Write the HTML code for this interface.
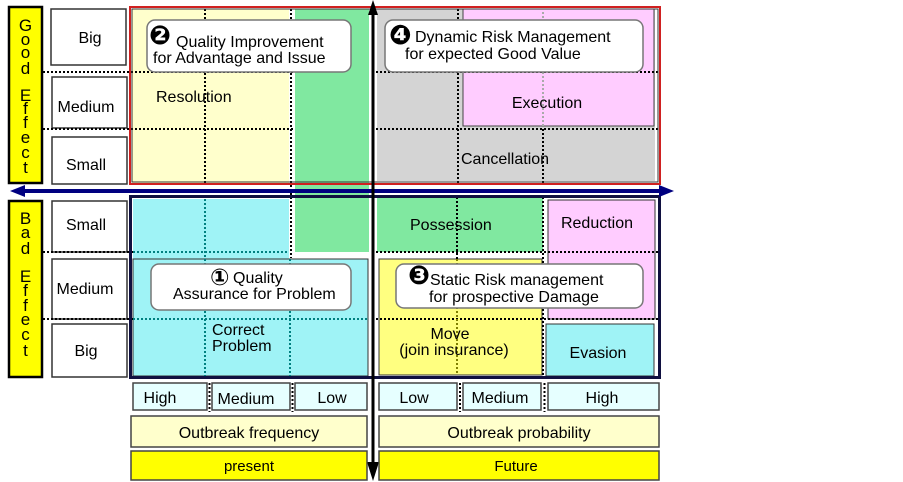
<!DOCTYPE html>
<html><head><meta charset="utf-8"><style>
html,body{margin:0;padding:0;background:#fff;}
svg{display:block;}
text{font-family:"Liberation Sans","DejaVu Sans",sans-serif;font-size:16px;fill:#000;}
.c{text-anchor:middle;}
.v{text-anchor:middle;font-size:17px;}
.sym{font-family:"DejaVu Sans",sans-serif;font-weight:bold;}
</style></head><body>
<svg width="903" height="482" viewBox="0 0 903 482" xmlns="http://www.w3.org/2000/svg">
<rect width="903" height="482" fill="#fff"/>

<!-- vertical yellow labels -->
<rect x="9" y="7" width="33" height="176" fill="#ffff00" stroke="#000" stroke-width="2.5"/>
<rect x="9" y="201" width="33" height="176" fill="#ffff00" stroke="#000" stroke-width="2.5"/>
<g>
<text x="25.5" y="31" class="v">G</text>
<text x="25.5" y="45" class="v">o</text>
<text x="25.5" y="58" class="v">o</text>
<text x="25.5" y="74" class="v">d</text>
<text x="25.5" y="101" class="v">E</text>
<text x="25.5" y="114" class="v">f</text>
<text x="25.5" y="128" class="v">f</text>
<text x="25.5" y="143" class="v">e</text>
<text x="25.5" y="158" class="v">c</text>
<text x="25.5" y="173" class="v">t</text>

<text x="25.5" y="224" class="v">B</text>
<text x="25.5" y="238" class="v">a</text>
<text x="25.5" y="254" class="v">d</text>
<text x="25.5" y="282" class="v">E</text>
<text x="25.5" y="296" class="v">f</text>
<text x="25.5" y="311" class="v">f</text>
<text x="25.5" y="325" class="v">e</text>
<text x="25.5" y="340" class="v">c</text>
<text x="25.5" y="356" class="v">t</text>
</g>

<!-- row label boxes -->
<g fill="#fff" stroke="#333" stroke-width="1.5">
<rect x="51" y="9" width="75" height="56"/>
<rect x="52" y="77" width="75" height="51"/>
<rect x="52" y="137" width="75" height="47"/>
<rect x="52" y="201" width="75" height="51"/>
<rect x="52" y="259" width="75" height="60"/>
<rect x="52" y="324" width="75" height="53"/>
</g>
<text x="90" y="43" class="c">Big</text>
<text x="86" y="112" class="c">Medium</text>
<text x="86" y="170" class="c">Small</text>
<text x="86" y="230" class="c">Small</text>
<text x="85" y="294" class="c">Medium</text>
<text x="86" y="356" class="c">Big</text>

<!-- TOP region fills -->
<rect x="132" y="9" width="157" height="174" fill="#ffffcc"/>
<rect x="295" y="9" width="74" height="243" fill="#80e8a0"/>
<rect x="377" y="9" width="278" height="172" fill="#d4d4d4"/>
<rect x="463" y="9" width="191" height="117" fill="#ffccff" stroke="#444" stroke-width="1"/>

<!-- BOTTOM region fills -->
<rect x="133" y="199" width="156" height="60" fill="#9ff3f6"/>
<rect x="133" y="259" width="235" height="117" fill="#9ff3f6" stroke="#333" stroke-width="1"/>
<rect x="377" y="197" width="166" height="55" fill="#80e8a0"/>
<rect x="548" y="200" width="107" height="119" fill="#ffccff" stroke="#333" stroke-width="1"/>
<rect x="546" y="324" width="108" height="52" fill="#9ff3f6" stroke="#333" stroke-width="1"/>
<rect x="379" y="259" width="163" height="116" fill="#ffff80" stroke="#333" stroke-width="1"/>

<!-- dotted lines -->
<g stroke="#000" stroke-width="2" stroke-dasharray="2 2" fill="none">
<line x1="43" y1="72" x2="295" y2="72"/>
<line x1="376" y1="72" x2="660" y2="72"/>
<line x1="43" y1="129" x2="295" y2="129"/>
<line x1="376" y1="129" x2="660" y2="129"/>
<line x1="205" y1="9" x2="205" y2="183"/>
<line x1="291" y1="9" x2="291" y2="258"/>
<line x1="458" y1="9" x2="458" y2="183"/>
<line x1="543" y1="129" x2="543" y2="183"/>
<line x1="43" y1="252" x2="133" y2="252"/>
<line x1="376" y1="252" x2="660" y2="252"/>
<line x1="43" y1="319" x2="133" y2="319"/>
<line x1="376" y1="319" x2="660" y2="319"/>
<line x1="543" y1="197" x2="543" y2="375"/>
<line x1="457" y1="197" x2="457" y2="259"/>
</g>
<g stroke="#aaa" stroke-width="2" stroke-dasharray="2 2">
<line x1="543" y1="12" x2="543" y2="126"/>
</g>
<g stroke="#008080" stroke-width="2" stroke-dasharray="2 2">
<line x1="133" y1="252" x2="289" y2="252"/>
<line x1="133" y1="319" x2="368" y2="319"/>
<line x1="205" y1="199" x2="205" y2="376"/>
<line x1="290" y1="259" x2="290" y2="376"/>
</g>
<g stroke="#808000" stroke-width="2" stroke-dasharray="2 2">
<line x1="457" y1="259" x2="457" y2="375"/>
</g>

<!-- frames -->
<rect x="130" y="7" width="530" height="177" fill="none" stroke="#d02020" stroke-width="2"/>
<rect x="132" y="9" width="526" height="173" fill="none" stroke="#333" stroke-width="1"/>
<rect x="130.5" y="196.5" width="529" height="181" fill="none" stroke="#101040" stroke-width="3"/>

<!-- blue horizontal arrow -->
<line x1="20" y1="191" x2="662" y2="191" stroke="#000080" stroke-width="4"/>
<polygon points="10,191 25,185 25,197" fill="#000080"/>
<polygon points="674,191 659,185 659,197" fill="#000080"/>

<!-- black vertical arrow -->
<line x1="373" y1="12" x2="373" y2="468" stroke="#000" stroke-width="3"/>
<polygon points="373,0 368,15 378,15" fill="#000"/>
<polygon points="373,481 367,462 379,462" fill="#000"/>

<!-- labels in areas -->
<text x="156" y="102">Resolution</text>
<text x="547" y="108" class="c">Execution</text>
<text x="461" y="164">Cancellation</text>
<text x="410" y="230">Possession</text>
<text x="597" y="228" class="c">Reduction</text>
<text x="450" y="339" class="c">Move</text>
<text x="454" y="355" class="c">(join insurance)</text>
<text x="598" y="358" class="c">Evasion</text>
<text x="212" y="335">Correct</text>
<text x="212" y="351">Problem</text>

<!-- callouts -->
<g fill="#fff" stroke="#777" stroke-width="1.5">
<rect x="147" y="20" width="204" height="52" rx="8"/>
<rect x="385" y="20" width="258" height="52" rx="8"/>
<rect x="151" y="264" width="200" height="46" rx="8"/>
<rect x="396" y="264" width="247" height="44" rx="8"/>
</g>
<text x="149" y="44" class="sym" style="font-size:26px">❷</text>
<text x="176" y="47">Quality Improvement</text>
<text x="153" y="63">for Advantage and Issue</text>

<text x="389" y="44" class="sym" style="font-size:27px">❹</text>
<text x="415" y="42">Dynamic Risk Management</text>
<text x="405" y="59">for expected Good Value</text>

<text x="210" y="285" class="sym" style="font-size:23px">①</text>
<text x="233" y="283">Quality</text>
<text x="173" y="299">Assurance for Problem</text>

<text x="408" y="284" class="sym" style="font-size:26px">❸</text>
<text x="430" y="285">Static Risk management</text>
<text x="429" y="302">for prospective Damage</text>

<!-- bottom scale boxes -->
<g fill="#e6ffff" stroke="#444" stroke-width="1.5">
<rect x="133" y="383" width="74" height="27"/>
<rect x="212" y="383" width="78" height="27"/>
<rect x="295" y="383" width="72" height="27"/>
<rect x="379" y="383" width="78" height="27"/>
<rect x="463" y="383" width="78" height="27"/>
<rect x="548" y="383" width="111" height="27"/>
</g>
<g stroke="#000" stroke-width="2" stroke-dasharray="2 2">
<line x1="209.5" y1="383" x2="209.5" y2="412"/>
<line x1="292.5" y1="383" x2="292.5" y2="412"/>
<line x1="460" y1="383" x2="460" y2="412"/>
<line x1="544.5" y1="383" x2="544.5" y2="412"/>
</g>
<text x="160" y="403" class="c">High</text>
<text x="246" y="404" class="c">Medium</text>
<text x="332" y="403" class="c">Low</text>
<text x="414" y="403" class="c">Low</text>
<text x="500" y="403" class="c">Medium</text>
<text x="602" y="403" class="c">High</text>

<g stroke="#444" stroke-width="1.5">
<rect x="131" y="416" width="236" height="31" fill="#ffffcc"/>
<rect x="379" y="416" width="280" height="31" fill="#ffffcc"/>
<rect x="131" y="451" width="236" height="29" fill="#ffff00"/>
<rect x="379" y="451" width="280" height="29" fill="#ffff00"/>
</g>
<text x="249" y="438" class="c">Outbreak frequency</text>
<text x="519" y="438" class="c">Outbreak probability</text>
<text x="249" y="471" class="c" style="font-size:15px">present</text>
<text x="516" y="471" class="c" style="font-size:15px">Future</text>
</svg>
</body></html>
